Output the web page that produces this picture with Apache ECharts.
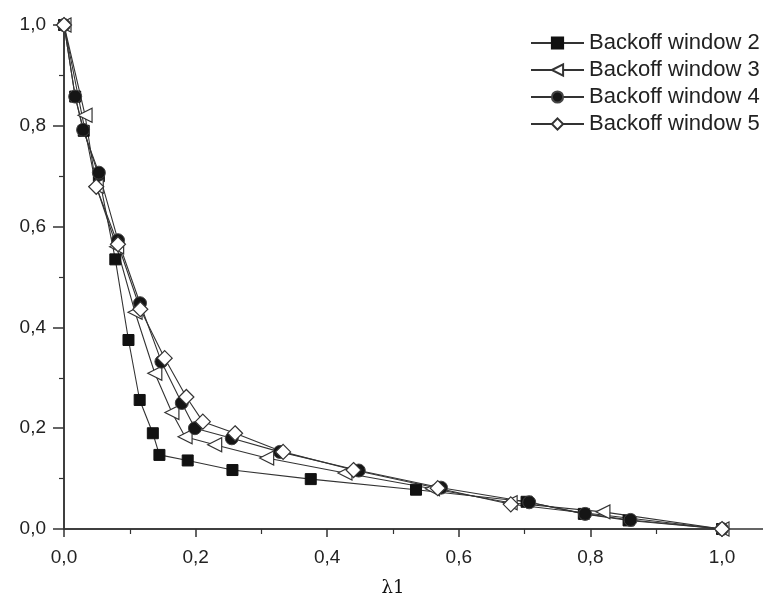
<!DOCTYPE html>
<html>
<head>
<meta charset="utf-8">
<script src="https://cdn.jsdelivr.net/npm/echarts@6/dist/echarts.min.js"></script>
<style>html,body{margin:0;padding:0;background:#fff;}#c{width:763px;height:598px;}</style>
</head>
<body>
<div id="c"></div>
<script>
var seriesNames = ['Backoff window 2', 'Backoff window 3', 'Backoff window 4', 'Backoff window 5'];
var xTicks = [0, 0.2, 0.4, 0.6, 0.8, 1.0];
var yTicks = [0, 0.2, 0.4, 0.6, 0.8, 1.0];

var w2 = [[0,1],[0.017,0.858],[0.03,0.79],[0.053,0.70],[0.078,0.535],[0.098,0.375],[0.115,0.256],[0.135,0.19],[0.145,0.147],[0.188,0.136],[0.256,0.117],[0.375,0.099],[0.535,0.078],[0.703,0.054],[0.79,0.03],[0.858,0.017],[1,0]];
var w3 = [[0,1],[0.032,0.821],[0.049,0.68],[0.08,0.56],[0.108,0.43],[0.138,0.309],[0.164,0.231],[0.184,0.183],[0.229,0.167],[0.308,0.141],[0.427,0.111],[0.56,0.08],[0.678,0.052],[0.819,0.034],[1,0]];
var w4 = [[0,1],[0.017,0.858],[0.029,0.792],[0.053,0.707],[0.082,0.573],[0.1155,0.448],[0.148,0.332],[0.179,0.25],[0.199,0.2],[0.255,0.18],[0.328,0.153],[0.448,0.116],[0.573,0.082],[0.707,0.053],[0.792,0.03],[0.861,0.018],[1,0]];
var w5 = [[0,1],[0.049,0.679],[0.082,0.565],[0.116,0.436],[0.153,0.339],[0.186,0.262],[0.211,0.213],[0.26,0.19],[0.333,0.153],[0.44,0.117],[0.568,0.081],[0.679,0.049],[1,0]];

function fmt(v){ return v.toFixed(1).replace('.', ','); }

var FONT = 'Liberation Sans, Arial, sans-serif';
var AX = '#333';
var lineStyle = {color:'#333', width:1.1};
var chart = echarts.init(document.getElementById('c'), null, {renderer:'canvas'});
chart.setOption({
  animation:false,
  backgroundColor:'#fff',
  grid:[
    {left:64, top:25, bottom:69, right:41, outerBoundsMode:'none', containLabel:false},
    {left:64, top:18, bottom:69, right:0, outerBoundsMode:'none', containLabel:false}
  ],
  legend:{
    orient:'vertical', left:525, top:27, itemWidth:53, itemHeight:14, itemGap:5,
    textStyle:{fontFamily:FONT, fontSize:22, lineHeight:22, color:'#222'},
    data:seriesNames
  },
  xAxis:[{
    gridIndex:0, type:'value', min:xTicks[0], max:xTicks[xTicks.length-1], interval:0.2,
    axisLine:{lineStyle:{color:AX, width:1.5}},
    axisTick:{show:true, length:8, lineStyle:{color:AX, width:1.5}},
    minorTick:{show:true, splitNumber:2, length:5, lineStyle:{color:AX, width:1.2}},
    splitLine:{show:false},
    axisLabel:{formatter:fmt, margin:19, fontFamily:FONT, fontSize:19, color:'#222'},
    name:'λ1', nameLocation:'middle', nameGap:50,
    nameTextStyle:{fontFamily:'DejaVu Serif, Liberation Serif, serif', fontSize:18, color:'#111'}
  },{
    gridIndex:1, type:'value', min:0, max:1,
    axisLine:{lineStyle:{color:AX, width:1.5}},
    axisTick:{show:false}, axisLabel:{show:false}, splitLine:{show:false}
  }],
  yAxis:[{
    gridIndex:0, type:'value', min:yTicks[0], max:yTicks[yTicks.length-1], interval:0.2,
    axisLine:{lineStyle:{color:AX, width:1.5}},
    axisTick:{show:true, length:11, lineStyle:{color:AX, width:1.5}},
    minorTick:{show:true, splitNumber:2, length:5, lineStyle:{color:AX, width:1.2}},
    splitLine:{show:false},
    axisLabel:{formatter:fmt, margin:18, fontFamily:FONT, fontSize:19, color:'#222'}
  },{
    gridIndex:1, type:'value', min:0, max:1,
    axisLine:{lineStyle:{color:AX, width:1.5}},
    axisTick:{show:false}, axisLabel:{show:false}, splitLine:{show:false}
  }],
  series:[
    {name:seriesNames[0], type:'line', data:w2, symbol:'rect', symbolSize:11, lineStyle:lineStyle,
     itemStyle:{color:'#111', borderColor:'#111', borderWidth:1}},
    {name:seriesNames[1], type:'line', data:w3, symbol:'triangle', symbolRotate:90, symbolSize:14, lineStyle:lineStyle,
     itemStyle:{color:'#fff', borderColor:'#333', borderWidth:1.2}},
    {name:seriesNames[2], type:'line', data:w4, symbol:'circle', symbolSize:13, lineStyle:lineStyle,
     itemStyle:{color:'#151515', borderColor:'#444', borderWidth:1}},
    {name:seriesNames[3], type:'line', data:w5, symbol:'diamond', symbolSize:15, lineStyle:lineStyle,
     itemStyle:{color:'#fff', borderColor:'#333', borderWidth:1.2}}
  ]
});
</script>
</body>
</html>
